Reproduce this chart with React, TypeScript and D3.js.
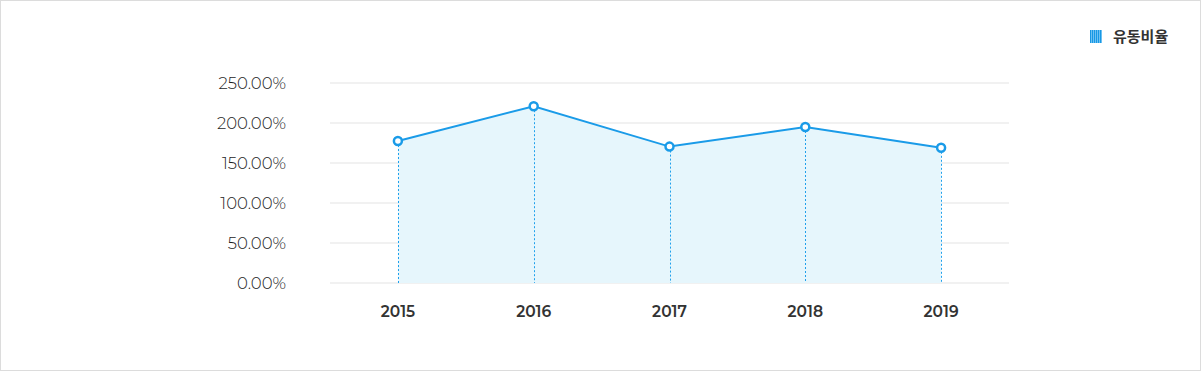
import React from "react";
import * as d3 from "d3";

const categories = ["2015", "2016", "2017", "2018", "2019"];
const values = [177.5, 221, 170.5, 195, 169];
const yTicks = [0, 50, 100, 150, 200, 250];
const seriesName = "유동비율";

const W = 1201;
const H = 371;
const margin = { left: 330, right: 192, top: 83, bottom: 88 };
const BLUE = "#1a9be8";
const FONT = "Montserrat, Lato, 'Noto Sans', sans-serif";

export default function App() {
  const x = d3
    .scaleBand<string>()
    .domain(categories)
    .range([margin.left, W - margin.right])
    .paddingInner(0)
    .paddingOuter(0);
  const y = d3.scaleLinear().domain([0, 250]).range([H - margin.bottom, margin.top]);
  const cx = (c: string) => (x(c) as number) + x.bandwidth() / 2;
  const pts: [number, number][] = categories.map((c, i) => [cx(c), y(values[i])]);
  const line = d3.line<[number, number]>().x((d) => d[0]).y((d) => d[1]);
  const area = d3
    .area<[number, number]>()
    .x((d) => d[0])
    .y0(y(0))
    .y1((d) => d[1]);

  return (
    <svg
      width={W}
      height={H}
      style={{ position: "absolute", left: 0, top: 0, fontFamily: FONT }}
    >
      <defs>
        <pattern id="stripes" width="2" height="13" patternUnits="userSpaceOnUse">
          <rect width="1.3" height="13" fill="#1898e4" />
          <rect x="1.3" width="0.7" height="13" fill="#4cb4f0" />
        </pattern>
      </defs>
      <rect x={0.5} y={0.5} width={W - 1} height={H - 1} fill="#fff" stroke="#dcdcdc" />
      {yTicks.map((t) => (
        <g key={t}>
          <line x1={margin.left} x2={W - margin.right} y1={y(t)} y2={y(t)} stroke="#e3e3e3" strokeWidth={1} />
          <text x={286} y={y(t)} dy="0.36em" textAnchor="end" fontSize={16.5} fontWeight={300} fill="#1e1e1e">
            {t.toFixed(2)}%
          </text>
        </g>
      ))}
      <path d={area(pts) || ""} fill="#e6f6fc" />
      {pts.map((p, i) => (
        <line
          key={"v" + i}
          x1={Math.round(p[0]) + 0.5}
          x2={Math.round(p[0]) + 0.5}
          y1={p[1]}
          y2={y(0)}
          stroke="#1fa0ec"
          strokeWidth={1}
          strokeDasharray="2,2"
        />
      ))}
      <path d={line(pts) || ""} fill="none" stroke={BLUE} strokeWidth={2} />
      {pts.map((p, i) => (
        <circle key={"c" + i} cx={p[0]} cy={p[1]} r={4} fill="#fff" stroke={BLUE} strokeWidth={2.5} />
      ))}
      {categories.map((c) => (
        <text key={c} x={cx(c)} y={311} dy="0.36em" textAnchor="middle" fontSize={15.5} fontWeight={600} fill="#333">
          {c}
        </text>
      ))}
      <rect x={1090} y={30} width={12} height={13} fill="url(#stripes)" />
      <text x={1113} y={36.5} dy="0.36em" fontSize={15} fontWeight={700} fill="#333" fontFamily="'Noto Sans CJK KR', sans-serif">
        {seriesName}
      </text>
    </svg>
  );
}
